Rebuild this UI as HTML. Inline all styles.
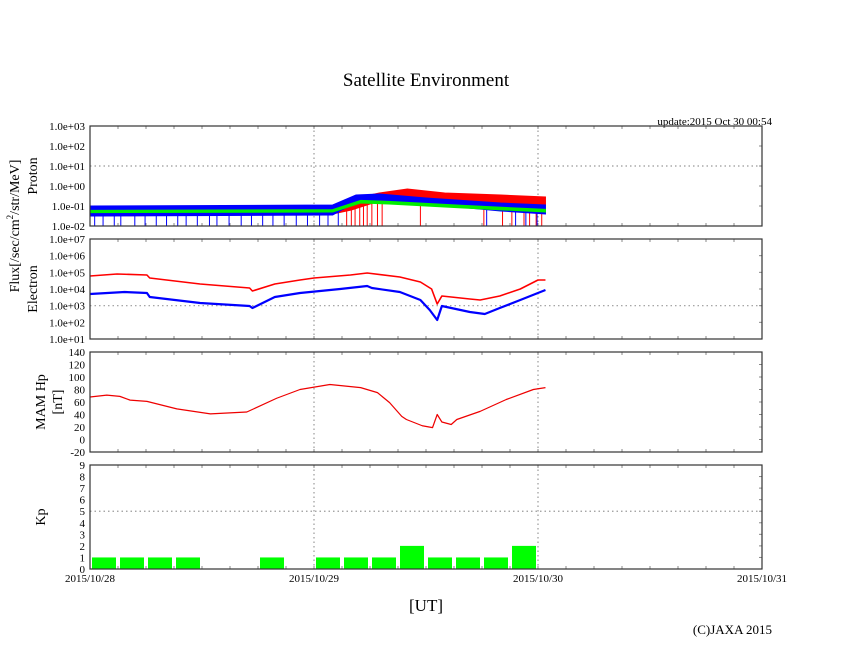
<!DOCTYPE html>
<html><head><meta charset="utf-8"><style>
html,body{margin:0;padding:0;background:#fff;}
svg text{font-family:"Liberation Serif",serif;fill:#000;}
</style></head><body>
<svg id="chart" width="846" height="655" viewBox="0 0 846 655" xmlns="http://www.w3.org/2000/svg">
<text x="426" y="86" font-size="19" text-anchor="middle">Satellite Environment</text>
<text x="772" y="125" font-size="11" text-anchor="end">update:2015 Oct 30 00:54</text>
<text transform="translate(19,226) rotate(-90)" font-size="14" text-anchor="middle">Flux[/sec/cm<tspan font-size="9" dy="-6">2</tspan><tspan dy="6">/str/MeV]</tspan></text>
<text transform="translate(37,176) rotate(-90)" font-size="14" text-anchor="middle">Proton</text>
<text transform="translate(37,289) rotate(-90)" font-size="14" text-anchor="middle">Electron</text>
<text transform="translate(45,402) rotate(-90)" font-size="14" text-anchor="middle">MAM Hp</text>
<text transform="translate(62,402) rotate(-90)" font-size="14" text-anchor="middle">[nT]</text>
<text transform="translate(45,517) rotate(-90)" font-size="14" text-anchor="middle">Kp</text>
<text x="426" y="611" font-size="17" text-anchor="middle">[UT]</text>
<text x="772" y="634" font-size="13" text-anchor="end">(C)JAXA 2015</text>
<g id="plots"></g>
</svg>
<script>
// ---- data ----
const dayLabels = ["2015/10/28","2015/10/29","2015/10/30","2015/10/31"];
const protonTicks = ["1.0e-02","1.0e-01","1.0e+00","1.0e+01","1.0e+02","1.0e+03"];
const electronTicks = ["1.0e+01","1.0e+02","1.0e+03","1.0e+04","1.0e+05","1.0e+06","1.0e+07"];
const mamTicks = [-20,0,20,40,60,80,100,120,140];
const kpTicks = [0,1,2,3,4,5,6,7,8,9];
// proton bands (hours since 10/28 00UT, log10 flux low/high)
const pRedH  = [0,26,28,31,34,38,44,48.8];
const pRedLo = [-1.5,-1.4,-1.2,-0.75,-0.65,-0.75,-0.85,-0.95];
const pRedHi = [-1.1,-1.05,-0.65,-0.35,-0.15,-0.35,-0.45,-0.55];
const pRedDips = [27.5,28,28.4,28.9,29.3,29.7,30.2,30.8,31.3,35.4,42.2,44.2,45.2,46.5,47.1,47.8,48.4];
const pBlueH  = [0,26,28.5,31,36,44,48.8];
const pBlueLo = [-1.5,-1.45,-0.8,-0.7,-0.9,-1.25,-1.4];
const pBlueHi = [-1.0,-0.95,-0.45,-0.4,-0.6,-0.85,-0.95];
const pBlueDips = [0.5,1.4,2.6,3.3,4.8,5.9,7.1,8.2,9.4,10.3,11.5,12.8,13.6,14.9,16.2,17.3,18.5,19.6,20.8,22.1,23.3,24.6,25.5,26.6,42.5,45.6,46.7,47.9];
const pGreenH  = [0,26,29,32,40,48.8];
const pGreenLo = [-1.33,-1.3,-0.85,-0.9,-1.1,-1.3];
const pGreenHi = [-1.22,-1.18,-0.72,-0.77,-0.97,-1.17];
// electrons (log10 flux)
const eRedH = [0,2.9,6.1,6.4,11.8,17.1,17.4,19.8,22.5,24,27.9,29.7,33.2,35.4,36.6,37.2,37.7,40.7,41.8,43.9,46.1,48,48.8];
const eRedLog = [4.78,4.90,4.84,4.66,4.30,4.06,3.88,4.30,4.54,4.66,4.84,4.96,4.72,4.42,4.0,3.1,3.58,3.4,3.34,3.58,4.0,4.54,4.54];
const eBlueH = [0,3.7,6.1,6.4,11.8,17.1,17.4,19.8,22.5,26.8,29.7,30.2,33.2,35.4,36.4,37.2,37.7,40.7,42.3,43.9,46.1,48.8];
const eBlueLog = [3.70,3.82,3.76,3.52,3.16,2.98,2.86,3.52,3.76,4.0,4.18,4.06,3.82,3.34,2.74,2.14,2.98,2.62,2.5,2.86,3.34,3.94];
// MAM Hp (nT)
const mamH = [0,1.8,3.2,4.3,6.1,9.3,12.9,16.8,20,22.5,25.7,29,30.8,32.1,33.4,33.9,35.6,36.7,37.2,37.7,38.7,39.3,41.8,44.6,47.5,48.8];
const mamV = [68,71,69,63,61,49,41,44,66,80,88,83,75,59,37,32,22,19,40,28,24,32,45,64,80,83];
// Kp per 3-hour slot
const kpV = [1,1,1,1,0,0,1,0,1,1,1,2,1,1,1,2];

// ---- layout ----
const X0=90, X1=762, HRS=72;
const xs = h => X0 + h*(X1-X0)/HRS;
const panels = {
  proton:{top:126,bot:226,min:-2,max:3},
  electron:{top:239,bot:339,min:1,max:7},
  mam:{top:352,bot:452,min:-20,max:140},
  kp:{top:465,bot:569,min:0,max:9}
};
const ys = (p,v) => p.bot - (v-p.min)*(p.bot-p.top)/(p.max-p.min);
const NS="http://www.w3.org/2000/svg";
const root=document.getElementById('plots');
function mk(tag,attrs,parent){const e=document.createElementNS(NS,tag);for(const k in attrs)e.setAttribute(k,attrs[k]);(parent||root).appendChild(e);return e;}

function frame(name,p,tickLabels,tickVals,gridVals){
  const g=mk('g',{});
  
  
  [24,48].forEach(h=>{const l=mk('line',{x1:xs(h),x2:xs(h),y1:p.top,y2:p.bot,stroke:'#999','stroke-dasharray':'1.5,3','stroke-width':1.2},g);
    
    });
  gridVals.forEach(v=>{const l=mk('line',{x1:X0,x2:X1,y1:ys(p,v),y2:ys(p,v),stroke:'#999','stroke-dasharray':'1.5,3','stroke-width':1.2},g);
    
    });
  for(let h=3;h<72;h+=3){mk('line',{x1:xs(h),x2:xs(h),y1:p.top,y2:p.top+3,stroke:'#888'},g);mk('line',{x1:xs(h),x2:xs(h),y1:p.bot,y2:p.bot-3,stroke:'#888'},g);}
  tickVals.forEach((v,i)=>{const y=ys(p,v);
    mk('line',{x1:X1,x2:X1-3,y1:y,y2:y,stroke:'#888'},g);
    const t=mk('text',{x:85,y:y+4,'font-size':11,'text-anchor':'end'},g);t.textContent=tickLabels[i];
    
    });
  return g;
}
function border(p){const r=mk('rect',{x:X0,y:p.top,width:X1-X0,height:p.bot-p.top,fill:'none',stroke:'#333','stroke-width':1.2});
  
  }
function band(p,H,lo,hi,col,name){
  let d='M'+H.map((h,i)=>xs(h)+','+ys(p,hi[i])).join('L');
  for(let i=H.length-1;i>=0;i--) d+='L'+xs(H[i])+','+ys(p,lo[i]);
  const e=mk('path',{d:d+'Z',fill:col,stroke:col,'stroke-width':1});
  
  
  return e;
}
function interp(H,V,h){for(let i=1;i<H.length;i++){if(h<=H[i]){const f=(h-H[i-1])/(H[i]-H[i-1]);return V[i-1]+f*(V[i]-V[i-1]);}}return V[V.length-1];}
function dips(p,H,lo,list,col,name){list.forEach(h=>{const l=mk('line',{x1:xs(h),x2:xs(h),y1:ys(p,interp(H,lo,h)),y2:p.bot,stroke:col,'stroke-width':1});
  
  });}
function line(p,H,V,col,w,name){const e=mk('polyline',{points:H.map((h,i)=>xs(h)+','+ys(p,V[i])).join(' '),fill:'none',stroke:col,'stroke-width':w,'stroke-linejoin':'round'});
  
  }

let P=panels.proton;
frame('proton',P,protonTicks,[-2,-1,0,1,2,3],[1]);
band(P,pRedH,pRedLo,pRedHi,'#f00','proton-red-series');
dips(P,pRedH,pRedLo,pRedDips,'#f00','proton-red-dip');
band(P,pBlueH,pBlueLo,pBlueHi,'#00f','proton-blue-series');
dips(P,pBlueH,pBlueLo,pBlueDips,'#00f','proton-blue-dip');
band(P,pGreenH,pGreenLo,pGreenHi,'#0e0','proton-green-series');
border(P);
P=panels.electron;
frame('electron',P,electronTicks,[1,2,3,4,5,6,7],[3]);
line(P,eRedH,eRedLog,'#f00',1.6,'electron-red-series');
line(P,eBlueH,eBlueLog,'#00f',2.2,'electron-blue-series');
border(P);
P=panels.mam;
frame('mam',P,mamTicks,mamTicks,[]);
line(P,mamH,mamV,'#e00',1.2,'mam-hp-series');
border(P);
P=panels.kp;
frame('kp',P,kpTicks,kpTicks,[5]);
kpV.forEach((v,i)=>{if(v<=0)return;const r=mk('rect',{x:xs(i*3)+2,y:ys(P,v),width:xs(3)-X0-4,height:P.bot-ys(P,v),fill:'#0f0'});
  
  });
border(P);
dayLabels.forEach((s,i)=>{const t=mk('text',{x:xs(i*24),y:582,'font-size':11,'text-anchor':'middle'});t.textContent=s;
  
  });
</script>
</body></html>
